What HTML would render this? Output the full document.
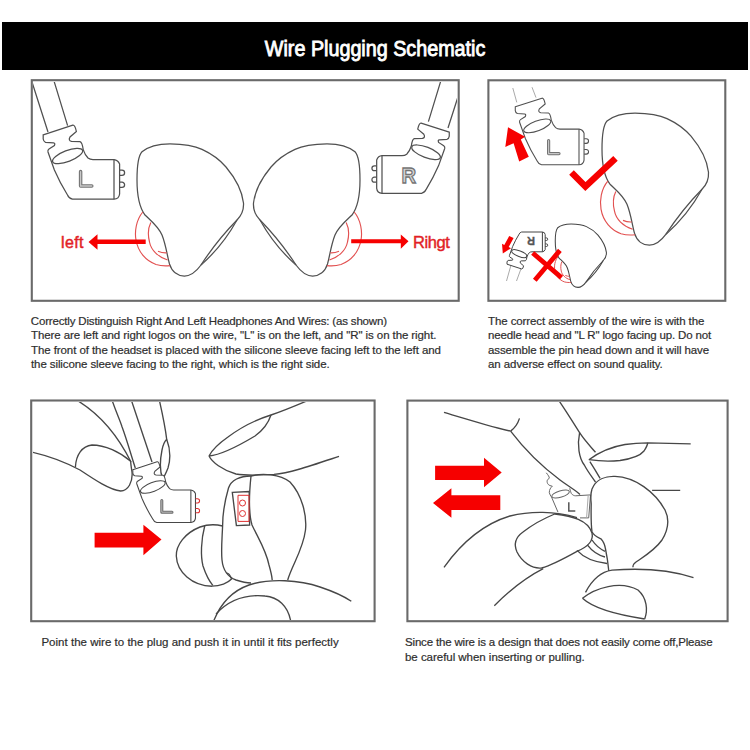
<!DOCTYPE html>
<html><head><meta charset="utf-8">
<style>
html,body{margin:0;padding:0;background:#fff;width:750px;height:750px;overflow:hidden;position:relative}
.t{position:absolute;font-family:"Liberation Sans",sans-serif;font-size:11.5px;line-height:14.6px;color:#2e2e2e;white-space:pre;-webkit-text-stroke:0.2px #2e2e2e}
.bar{position:absolute;left:2px;top:22px;width:746px;height:48px;background:#000}
.title{position:absolute;left:0;top:25px;width:750px;height:48px;text-align:center;font-family:"Liberation Sans",sans-serif;font-weight:normal;font-size:21.5px;line-height:48px;color:#fff;-webkit-text-stroke:0.85px #fff}
.title span{display:inline-block;transform:scaleX(0.918);transform-origin:center}
svg{position:absolute;left:0;top:0}
</style></head><body>
<div class="bar"></div>
<div class="title"><span>Wire Plugging Schematic</span></div>
<svg width="750" height="750" viewBox="0 0 750 750">
<defs>
<clipPath id="c1"><rect x="33" y="82" width="424" height="218"/></clipPath>
<clipPath id="c2"><rect x="490" y="82" width="235" height="218"/></clipPath>
<clipPath id="c3"><rect x="33" y="402" width="340" height="218"/></clipPath>
<clipPath id="c4"><rect x="408.5" y="402" width="317" height="218"/></clipPath>
<g id="conn">
<path d="M43.2,134.8 L72.8,125.2 Q75,124.8 76.4,131.6 L70,137 Q68,140.6 71.5,141.4 L80,141.6 Q82.2,142.2 83.2,149.6 Q85,155 88,158 Q90,159.6 93,159.6 L114,159.6 Q118,160 119.6,164 L119.6,194 Q119,199 114,199.2 L72.4,199.2 Q69,198.5 67.5,195 Q60,183 54.4,170 L48,152 Q47.5,150 49,149 L54.4,145.6 Q55.5,143 53.6,142.8 L45.5,142.3 Q43.5,141.5 43.2,139 Z"/>
<path d="M114,159.6 V199.2"/>
<ellipse cx="67.6" cy="156" rx="16" ry="5.5" transform="rotate(-21 67.6 156)"/>
</g>
<g id="pins"><path d="M119.8,170.2 H122 a2.6,2.6 0 0 1 0,5.2 H119.8 M119.8,182.2 H122 a2.6,2.6 0 0 1 0,5.2 H119.8"/></g>
<g id="ear">
<path d="M142,151.8 C150,145 160,143.8 170,143.8 C185,144 195,146 202,149.4 C212,154 220,160 226,167 C236,179 242,190 243.5,203 C244,211 241,216 237,220 Q222.9,245.6 201,265 C197,270.5 192,276 184.4,276 C178,276 172,272 169.5,264 C167,255 166,245 162,235 C158,226 150,220 145,215 C139,207 137,195 137,180 C137,165 139,155 142,151.8 Z"/>
<path d="M237,220 Q216.8,240.6 201,265"/>
</g>
<g id="arcs">
<path d="M142.8,212 C136,220 134.5,232 136,240 C138,252 146,261 156,264.5 C161,266 166,266 170,265.6"/>
<path d="M150.8,222.4 C148,228 148,236 149.5,242 C151,250 158,257 167.6,260"/>
<path d="M158,251.2 C161,252.5 164,253 166.8,252.8"/>
</g>
</defs>

<g fill="none" stroke="#6a6a6a" stroke-width="2.1">
<rect x="31.8" y="80.2" width="426.9" height="220.6"/>
<rect x="488.4" y="80.3" width="236.9" height="220.5"/>
<rect x="31.2" y="400.5" width="343.4" height="220.7"/>
<rect x="407.4" y="400.6" width="320.2" height="220.6"/>
</g>

<!-- BOX 1 -->
<g clip-path="url(#c1)">
<g fill="#fff" stroke="#505050" stroke-width="1.25">
<path d="M32.4,83.2 L48,132 M53.7,80 L67.6,125.6" fill="none"/>
<use href="#conn"/>
<use href="#pins" fill="none"/>
<use href="#ear"/>
<path d="M463.6,79.2 L448,128 M442.3,76 L428.4,121.6" fill="none"/>
<g transform="translate(490.3,4.1) scale(-0.95,0.95)" stroke-width="1.3">
<use href="#conn"/>
<use href="#pins" fill="none"/>
</g>
<use href="#ear" transform="translate(497,0) scale(-1,1)"/>
</g>
<path d="M80.6,171.6 V186 H91.8" fill="none" stroke="#747474" stroke-width="3.5" stroke-linecap="round" stroke-linejoin="round"/>
<path d="M80.6,171.6 V186 H91.8" fill="none" stroke="#c8c8c8" stroke-width="1.3" stroke-linecap="round"/>
<text x="401.5" y="183.3" font-family="Liberation Sans" font-size="22" font-weight="bold" fill="#d4d4d4" stroke="#747474" stroke-width="1.3" transform="translate(401.5 0) scale(0.92 1) translate(-401.5 0)">R</text>
<g fill="none" stroke="#e25050" stroke-width="1.15">
<use href="#arcs"/>
<use href="#arcs" transform="translate(497,0) scale(-1,1)"/>
</g>
<g fill="#f60000">
<path d="M145.7,239.6 H97.5 V234.3 L88.5,242 L97.5,249.7 V244 H145.7 Z"/>
<path d="M351.2,239.3 H400.8 V234.4 L408.5,241.3 L400.8,248.8 V243.3 H351.2 Z"/>
</g>
<text x="61" y="248.2" font-family="Liberation Sans" font-size="16" letter-spacing="0.4" fill="#e21f26" stroke="#e21f26" stroke-width="0.45">left</text>
<text x="413" y="248" font-family="Liberation Sans" font-size="16.5" letter-spacing="-0.4" fill="#e21f26" stroke="#e21f26" stroke-width="0.45">Rihgt</text>
</g>

<!-- BOX 2 -->
<g clip-path="url(#c2)">
<path d="M512.8,88 L516.8,102.4 M532,87.2 L536,97.6" fill="none" stroke="#aaa" stroke-width="1"/>
<g fill="#fff" stroke="#505050" stroke-width="1.25">
<g transform="translate(476.4,-14.5) scale(0.9)">
<use href="#conn" stroke-width="1.2"/>
<use href="#pins" fill="none" stroke-width="1.2"/>
</g>
<use href="#ear" transform="translate(465,-30.8)"/>
</g>
<path d="M548.6,140.5 V153.6 H559" fill="none" stroke="#747474" stroke-width="3.2" stroke-linecap="round" stroke-linejoin="round"/>
<path d="M548.6,140.5 V153.6 H559" fill="none" stroke="#c8c8c8" stroke-width="1.1" stroke-linecap="round"/>
<g fill="none" stroke="#e25050" stroke-width="1.15">
<use href="#arcs" transform="translate(465,-30.8)"/>
</g>
<path d="M508,127.2 L525.1,136.8 L520.8,139.5 L528.8,156.8 L519.2,161.6 L513.6,143.2 L505.3,146.9 Z" fill="#f60000"/>
<path d="M571.5,172.5 L585.4,186.5 L615.5,158.3" fill="none" stroke="#f60000" stroke-width="6.5"/>
<!-- small lower -->
<path d="M511,265 L506.5,281 M522,266 L516.5,281" fill="none" stroke="#aaa" stroke-width="1"/>
<g fill="#fff" stroke="#444" stroke-width="1">
<g transform="translate(485.4,331.6) scale(0.5,-0.5)">
<use href="#conn" stroke-width="2"/>
<use href="#pins" fill="none" stroke-width="2"/>
</g>
<use href="#ear" transform="translate(489.5,154.9) scale(0.48)" stroke-width="2.2"/>
</g>
<g fill="none" stroke="#e04a4a" stroke-width="2">
<use href="#arcs" transform="translate(489.5,154.9) scale(0.48)"/>
</g>
<text x="0" y="0" transform="translate(535,236.8) rotate(180)" font-family="Liberation Sans" font-size="11" font-weight="bold" fill="#555" stroke="#555" stroke-width="0.3">R</text>
<path d="M502.8,253.6 L502,243.8 L504.3,244.9 L509.2,235.9 L513.6,238.1 L508.7,247.1 L511,248.2 Z" fill="#f60000"/>
<path d="M532.7,253 L561.5,277.6 M559.9,250.4 L534.8,280.3" fill="none" stroke="#f60000" stroke-width="4.8"/>
</g>

<!-- BOX 3 -->
<g clip-path="url(#c3)" fill="none" stroke="#474747" stroke-width="1.35">
<path d="M76.5,400 C100,414 118,436 131,462"/>
<path d="M30,451.7 C50,456 65,462 80,470 C95,480 110,490 120.7,491 C128,491 133,482 132,472 C131,466 130.7,462 130.7,461.3"/>
<path d="M75.4,467 C76,455 82,446 92,445 C105,445 120,452 130.7,461.3"/>
<path d="M112,400 C116,412 120,420 122,426.7 C127,440 131,455 135.3,468"/>
<path d="M131.3,400 L152,462"/>
<path d="M159.3,400 C162,412 165,425 166.7,439.3 C170,448 171,458 168,468 C166,473 164,477 162.7,478.7 C160,472 160,460 162,450 C163,445 165,441 166.7,439.3"/>
<g fill="#fff"><g transform="translate(97.4,359.1) scale(0.82)"><use href="#conn" stroke-width="1.3"/></g></g>
<g transform="translate(97.4,359.1) scale(0.82)"><use href="#pins" stroke="#e03030" stroke-width="1.3"/></g>
<path d="M161.8,500.5 V512.2 H172" stroke="#6a6a6a" stroke-width="3" stroke-linecap="round" stroke-linejoin="round"/>
<path d="M161.8,500.5 V512.2 H172" stroke="#bbb" stroke-width="1" stroke-linecap="round"/>
<path d="M94.6,532.7 H143.4 V524.7 L161.5,539.5 L143.4,555.3 V547.4 H94.6 Z" fill="#f60000" stroke="none"/>
<!-- upper right finger -->
<path d="M309,400 C295,406 283,411 271,415 C255,420 240,428 228,437 C218,444 211,452 209,456"/>
<path d="M209,456 C220,455 240,445 255,436 C262,431 268,424 271,415"/>
<path d="M209,456 C212,462 222,470 236,474 C248,476 262,475 274,474.4 C290,473 310,466 339,456.4"/>
<!-- earpiece -->
<path d="M251,476 C262,473 280,474 290,482 C302,495 307,515 305.5,530 C303,550 292,565 287.7,580"/>
<path d="M251,476 C249,495 249,515 252,525 C258,538 266,550 269,565 C271,572 272,577 272.2,580"/>
<path d="M251,476 C240,476 231,480 228.5,488 C225,500 222.6,515 222.6,526 C222,540 221,550 222,560 C223,570 228,577 236,580 C242,582 248,583 251,583"/>
<path d="M232.3,492.4 L249.2,491.5 L249.6,525 L236.4,525.6 Z" fill="#fff"/>
<g stroke="#e03030" stroke-width="1"><path d="M238,495.3 H249 V521.4 H238 Z"/><circle cx="242.5" cy="503" r="3"/><circle cx="242.5" cy="513.5" r="3"/></g>
<!-- eartip -->
<path d="M222.6,526 C215,524 207,524.5 200,527 C185,533 176,545 176.3,556 C177,572 192,586 212,586.2 C220,586 228,583 231.5,579 C230,575 228,573 226.7,573.2"/>
<path d="M204.7,526 C201,540 200.5,556 203,566 C206,575 210,582 212.8,585.4"/>
<!-- bottom finger -->
<path d="M213.7,621 C220,605 232,591 249,585 C270,578 300,580 320,587 C335,592 345,597 351.3,601.3"/>
<path d="M216,614 C228,601 245,594 265,596 C278,597 288,606 290.7,621"/>
</g>

<!-- BOX 4 -->
<g clip-path="url(#c4)" fill="none" stroke="#474747" stroke-width="1.35">
<g fill="#f60000" stroke="none">
<path d="M435.1,465.7 H484 V457.7 L501.7,472.5 L484,487.3 V479.9 H435.1 Z"/>
<path d="M500.3,495.3 H451.4 V488.2 L433,503 L451.4,517.8 V510.1 H500.3 Z"/>
</g>
<path d="M444,412.4 C470,420 495,428 510.6,431.1"/>
<path d="M510.6,431.1 C515,428 518,423 519.5,418.4"/>
<path d="M510.6,431.1 C525,450 540,465 560,480 C568,486 575,490 580,494.4"/>
<path d="M559.5,401.5 C568,414 574,424 579.6,432.7 C585,441 591,447 595.5,452.3"/>
<path d="M589.9,461.6 C594,468 597,473 600.1,478.4"/>
<path d="M579.6,432.7 C577,445 579,458 584.3,465 C588,472 592,477 595.5,482"/>
<path d="M588.9,459.7 C598,453 610,447 625,444.5 C635,443 642,442.9 647.7,442.9 L690.7,443.9"/>
<path d="M588.9,459.7 C598,461 610,461.5 620,460.5 C630,459 640,456 644,451 C646,448 647.5,445 647.7,442.9"/>
<path d="M652.1,490.3 L680.2,490.3"/>
<!-- connector faint -->
<g stroke="#666" stroke-width="1">
<path d="M546.3,472.8 C548,475 549.5,477 549.3,478 C548,479.5 546.8,480.5 547.1,481.5 C547.3,484 548.5,485.5 552.3,486.2 C550.5,488 549.3,489.5 549.3,492.7 C549.8,494.5 550.5,495.5 551.5,497 L558,512.2"/>
<ellipse cx="560.6" cy="494" rx="9.1" ry="3.2" transform="rotate(-17 560.6 494)"/>
<path d="M569.7,488.4 C570.5,491 571,493 571.4,493.6 C572.5,495 574,495.8 575.7,495.8 L590.5,494.9 L588.7,517.9 L580,517.9"/>
<path d="M588.2,495.5 L586.6,517.5" stroke="#aaa"/>
</g>
<path d="M568.8,502.3 V510.9 H575.3" stroke="#555" stroke-width="1.5"/>
<!-- earpiece -->
<path d="M592,489 C596,479 606,476 615,476.4 C635,477 655,492 665,510 C670,520 668,530 662,540 C655,550 645,556 636,562 C633,564 632.9,566 632.9,567.3"/>
<path d="M592,489 C590,495 591,500 591.2,504 C591,515 591,525 592,531.7 C594,536 599,538 601.3,539.2 C604,542 605,546 605.5,549 C607,556 608,563 608.8,571"/>
<!-- thumb -->
<path d="M444,567.3 C460,545 480,525 510,516 C530,511 555,511 577,517.6"/>
<path d="M554.7,514 C572,516 588,520 592,533 C594,542 585,548 577,551.3 C565,558 552,565 541.6,568 C532,569 522,562 517,552 C513,543 516,537 523,532 C532,525 545,518 554.7,514 Z"/>
<path d="M494.3,605.7 C510,590 525,578 543.2,568.7"/>
<path d="M577,550.4 C584,558 594,562 607,563.5 M587.3,544.8 C592,551 598,555 605,557 M592,540 C596,546 600,549 605,551.3"/>
<!-- bottom finger -->
<path d="M585.5,592.4 C592,580 600,572 612,570.2 C640,568 670,570 693.5,577.6"/>
<path d="M582.5,598.3 C595,588 620,580 638,590 C647,598 648,610 644.7,619"/>
<path d="M582.5,598.3 C595,610 625,616 644.7,619"/>
</g>
</svg>
<div class="t" style="left:30px;top:313.7px"><span style="letter-spacing:-0.166px;margin-left:0.8px">Correctly Distinguish Right And Left Headphones And Wires: (as shown)</span>
<span style="letter-spacing:-0.09px;margin-left:1px">There are left and right logos on the wire, "L" is on the left, and "R" is on the right.</span>
<span style="letter-spacing:-0.08px;margin-left:1px">The front of the headset is placed with the silicone sleeve facing left to the left and</span>
<span style="letter-spacing:-0.098px;margin-left:1px">the silicone sleeve facing to the right, which is the right side.</span></div>
<div class="t" style="left:488px;top:313.7px"><span style="letter-spacing:-0.095px">The correct assembly of the wire is with the</span>
<span style="letter-spacing:-0.149px">needle head and "L R" logo facing up. Do not</span>
<span style="letter-spacing:-0.093px">assemble the pin head down and it will have</span>
<span style="letter-spacing:-0.074px">an adverse effect on sound quality.</span></div>
<div class="t" style="left:41.4px;top:635px"><span style="letter-spacing:0.02px">Point the wire to the plug and push it in until it fits perfectly</span></div>
<div class="t" style="left:405px;top:635px"><span style="letter-spacing:-0.171px">Since the wire is a design that does not easily come off,Please</span>
<span style="letter-spacing:-0.033px">be careful when inserting or pulling.</span></div>
</body></html>
